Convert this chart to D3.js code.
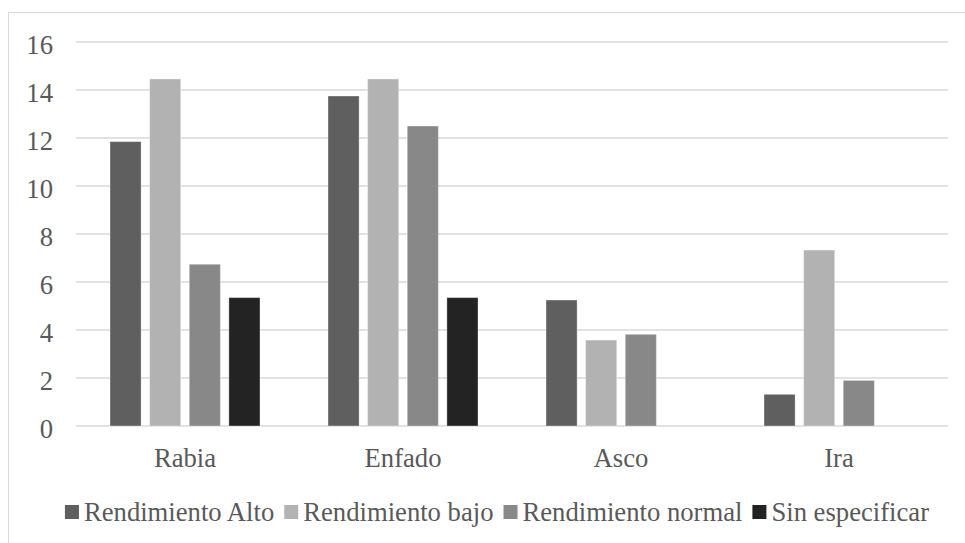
<!DOCTYPE html>
<html>
<head>
<meta charset="utf-8">
<script src="https://cdn.jsdelivr.net/npm/d3@7"></script>
</head>
<body style="margin:0; background:#fff">
<div id="chart"></div>
<script>
// data
var categories = ["Rabia", "Enfado", "Asco", "Ira"];
var seriesNames = ["Rendimiento Alto", "Rendimiento bajo", "Rendimiento normal", "Sin especificar"];
var rendAlto = [11.85, 13.75, 5.25, 1.32];
var rendBajo = [14.46, 14.46, 3.58, 7.33];
var rendNormal = [6.74, 12.5, 3.82, 1.9];
var sinEspecificar = [5.35, 5.35, 0, 0];
var yTicks = [0, 2, 4, 6, 8, 10, 12, 14, 16];

var seriesValues = [rendAlto, rendBajo, rendNormal, sinEspecificar];
var colors = ["#5f5f5f", "#b2b2b2", "#888888", "#232323"];

var svgWidth = 965;
var svgHeight = 543;
var fontSize = 26.67;
var fontFamily = "Times New Roman";
var textColor = "#595959";

var plot = { left: 76, right: 948, top: 42, bottom: 426 };

var svg = d3.select("#chart")
  .append("svg")
  .attr("width", svgWidth)
  .attr("height", svgHeight)
  .attr("font-family", fontFamily)
  .style("display", "block");

// outer chart border (right and bottom edges fall outside the picture)
svg.append("rect")
  .attr("x", 8.5)
  .attr("y", 12.5)
  .attr("width", 980)
  .attr("height", 560)
  .attr("fill", "none")
  .attr("stroke", "#d9d9d9")
  .attr("stroke-width", 1);

var y = d3.scaleLinear()
  .domain([0, 16])
  .range([plot.bottom, plot.top]);

var x0 = d3.scaleBand()
  .domain(categories)
  .range([plot.left, plot.right])
  .padding(0);

var x1 = d3.scaleBand()
  .domain(seriesNames)
  .range([34, x0.bandwidth() - 34])
  .paddingInner(0.215)
  .paddingOuter(0);

// gridlines
svg.append("g")
  .selectAll("line")
  .data(yTicks)
  .enter()
  .append("line")
  .attr("x1", plot.left)
  .attr("x2", plot.right)
  .attr("y1", d => y(d))
  .attr("y2", d => y(d))
  .attr("stroke", "#d9d9d9")
  .attr("stroke-width", 1.3);

// y axis labels
var leftAxis = d3.axisLeft(y).tickValues(yTicks).tickSize(0).tickPadding(0);
var yAxis = svg.append("g")
  .attr("transform", "translate(53,0)")
  .call(leftAxis)
  .attr("font-family", fontFamily)
  .attr("font-size", fontSize);
yAxis.select(".domain").remove();
yAxis.selectAll("text")
  .attr("dy", "0.42em")
  .attr("fill", textColor)
  .attr("font-family", fontFamily)
  .attr("font-size", fontSize);

// bars
var groups = svg.append("g")
  .selectAll("g")
  .data(categories)
  .enter()
  .append("g")
  .attr("transform", d => `translate(${x0(d)},0)`);

groups.selectAll("rect")
  .data((d, i) => seriesNames.map((s, j) => ({ series: s, value: seriesValues[j][i], color: colors[j] })))
  .enter()
  .filter(d => d.value > 0)
  .append("rect")
  .attr("x", d => x1(d.series))
  .attr("width", x1.bandwidth())
  .attr("y", d => y(d.value))
  .attr("height", d => y(0) - y(d.value))
  .attr("fill", d => d.color)
  .attr("stroke", "#ffffff")
  .attr("stroke-opacity", 0.35)
  .attr("stroke-width", 1);

// category labels
var bottomAxis = d3.axisBottom(x0).tickSize(0).tickPadding(0);
var xAxis = svg.append("g")
  .attr("transform", `translate(0,${plot.bottom})`)
  .call(bottomAxis)
  .attr("font-family", fontFamily)
  .attr("font-size", fontSize);
xAxis.select(".domain").remove();
xAxis.selectAll("text")
  .attr("y", 40.7)
  .attr("dy", 0)
  .attr("fill", textColor)
  .attr("font-family", fontFamily)
  .attr("font-size", fontSize);

// legend
var legend = svg.append("g");
var cursor = 0;
seriesNames.forEach(function (name, i) {
  var item = legend.append("g").attr("transform", `translate(${cursor},0)`);
  item.append("rect")
    .attr("x", 0)
    .attr("y", -16)
    .attr("width", 14)
    .attr("height", 14)
    .attr("fill", colors[i]);
  var t = item.append("text")
    .attr("x", 19)
    .attr("y", 0)
    .attr("fill", textColor)
    .attr("font-family", fontFamily)
    .attr("font-size", fontSize)
    .text(name);
  cursor += 19 + t.node().getComputedTextLength() + 10;
});
var legendWidth = cursor - 10;
legend.attr("transform", `translate(${497 - legendWidth / 2},521)`);
</script>
</body>
</html>
